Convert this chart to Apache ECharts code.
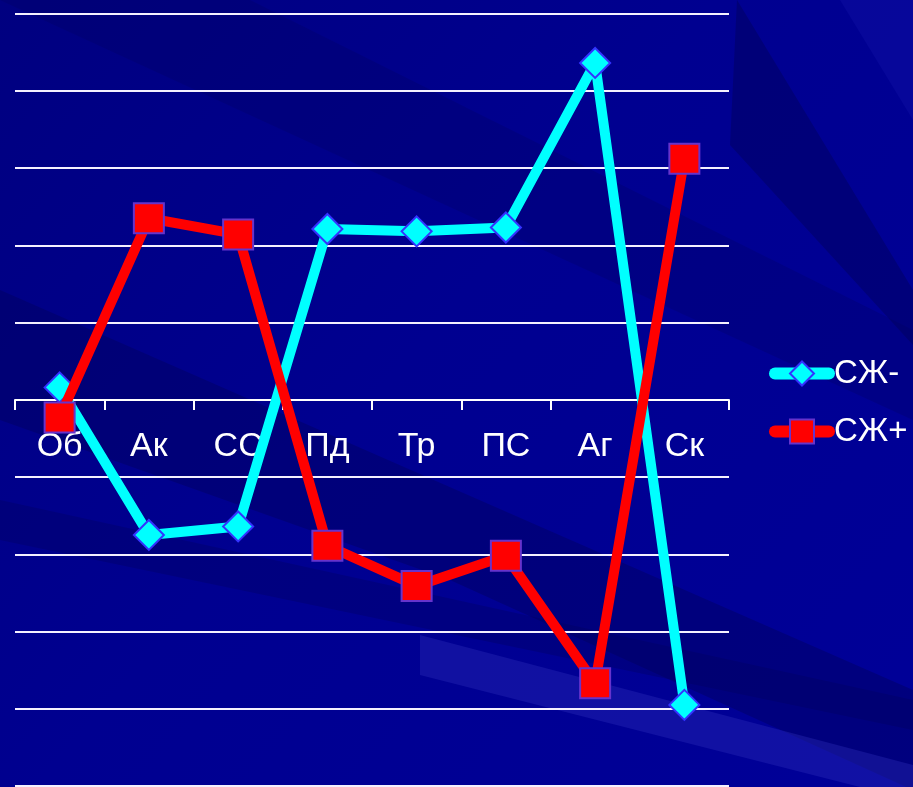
<!DOCTYPE html>
<html>
<head>
<meta charset="utf-8">
<script src="https://cdn.jsdelivr.net/npm/echarts@6/dist/echarts.min.js"></script>
<style>
html,body{margin:0;padding:0;background:#000094;}
#c{width:913px;height:787px;}
</style>
</head>
<body>
<div id="c"></div>
<script>
const categories = ['Об','Ак','СС','Пд','Тр','ПС','Аг','Ск'];
const seriesNames = ['СЖ-','СЖ+'];
const valuesMinus = [0.16,-1.75,-1.64,2.21,2.18,2.23,4.36,-3.95];
const valuesPlus = [-0.23,2.35,2.14,-1.89,-2.41,-2.02,-3.67,3.12];

const chart = echarts.init(document.getElementById('c'), null, {renderer:'canvas'});
const dark = 'rgba(0,0,90,0.45)';
chart.setOption({
  backgroundColor: {type:'linear',x:0,y:0,x2:1,y2:1,colorStops:[{offset:0,color:'#000080'},{offset:0.45,color:'#000090'},{offset:1,color:'#000098'}]},
  graphic: [
    {type:'polygon', z:-10, silent:true, shape:{points:[[0,290],[0,420],[450,580],[913,790],[913,690]]}, style:{fill:'rgba(0,0,90,0.4)'}},
    {type:'polygon', z:-10, silent:true, shape:{points:[[0,0],[250,0],[913,330],[913,420]]}, style:{fill:'rgba(0,0,90,0.25)'}},
    {type:'polygon', z:-10, silent:true, shape:{points:[[737,0],[913,290],[913,345],[730,145]]}, style:{fill:dark}},
    {type:'polygon', z:-10, silent:true, shape:{points:[[0,500],[913,700],[913,730],[0,540]]}, style:{fill:'rgba(0,0,90,0.3)'}},
    {type:'polygon', z:-10, silent:true, shape:{points:[[420,635],[913,765],[913,787],[860,787],[420,675]]}, style:{fill:'rgba(50,50,190,0.35)'}},
    {type:'polygon', z:-10, silent:true, shape:{points:[[840,0],[913,0],[913,120]]}, style:{fill:'rgba(20,20,170,0.35)'}}
  ],
  grid: {left:15, right:184, top:13.5, bottom:1, containLabel:false, outerBoundsMode:'none'},
  legend: {
    orient:'vertical', left:764, top:352, itemGap:25, itemWidth:54, itemHeight:30,
    lineStyle:{width:12, cap:'round'},
    textStyle:{color:'#ffffff', fontSize:33, fontFamily:'Liberation Sans, Arial, sans-serif'},
    data: seriesNames
  },
  xAxis: {
    type:'category', data:categories, boundaryGap:true, position:'bottom', offset:-386,
    axisLine:{onZero:false, lineStyle:{color:'#ffffff', width:2}},
    axisTick:{show:true, length:10, lineStyle:{color:'#ffffff', width:2}},
    axisLabel:{color:'#ffffff', fontSize:34, fontFamily:'Liberation Sans, Arial, sans-serif', margin:30},
    splitLine:{show:false}
  },
  yAxis: {
    type:'value', min:-5, max:5, interval:1,
    axisLine:{show:false}, axisTick:{show:false}, axisLabel:{show:false},
    splitLine:{show:true, lineStyle:{color:'#f4f0ff', width:2}}
  },
  series: [
    {name:seriesNames[0], type:'line', data:valuesMinus, symbol:'diamond', symbolSize:30,
     lineStyle:{color:'#00ffff', width:10}, itemStyle:{color:'#00ffff', borderColor:'#3333ff', borderWidth:2}, z:3},
    {name:seriesNames[1], type:'line', data:valuesPlus, symbol:'rect', symbolSize:30,
     lineStyle:{color:'#ff0000', width:10}, itemStyle:{color:'#ff0000', borderColor:'#6633cc', borderWidth:2}, z:4}
  ],
  animation:false
});
</script>
</body>
</html>
